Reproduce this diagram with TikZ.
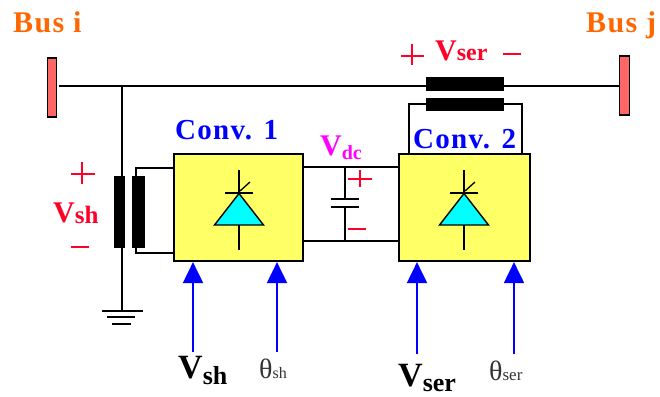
\documentclass[tikz,border=0pt]{standalone}
\usepackage{fontspec}
\setmainfont{Liberation Serif}
\newfontfamily\widefont[LetterSpace=4.5]{Liberation Serif}
\usetikzlibrary{arrows.meta,calc}
\definecolor{busorange}{RGB}{255,102,0}
\definecolor{busred}{RGB}{255,102,102}
\definecolor{boxyellow}{RGB}{255,255,102}
\definecolor{lblue}{RGB}{0,0,255}
\definecolor{vred}{RGB}{255,0,40}
\definecolor{dccyan}{RGB}{0,255,255}
\definecolor{dcmagenta}{RGB}{255,0,255}
\tikzset{
  wire/.style={draw=black,line width=1.7pt},
  busbar/.style={draw=black,fill=busred,line width=1.5pt,minimum width=9pt,inner sep=0pt},
  conv/.style={draw=black,fill=boxyellow,line width=2.2pt,inner sep=0pt},
  core/.style={fill=black,draw=none,inner sep=0pt},
  sig/.style={draw=lblue,line width=2pt,-{Triangle[width=20pt,length=21pt]},shorten >=0pt},
  sign/.style={draw=vred,line width=1.6pt},
  bustext/.style={text=busorange,font=\widefont\bfseries\fontsize{30}{30}\selectfont,inner sep=0pt},
  convtext/.style={text=lblue,font=\widefont\bfseries\fontsize{29}{29}\selectfont,inner sep=0pt},
  redtext/.style={text=vred,font=\bfseries\fontsize{30}{30}\selectfont,inner sep=0pt},
  blacktext/.style={text=black,font=\bfseries\fontsize{34}{34}\selectfont,inner sep=0pt},
  thetatext/.style={text=black!80,font=\fontsize{28}{28}\selectfont,inner sep=0pt},
}
\newcommand{\thyr}[2]{%
  \coordinate (#2top) at ($(#1)+(0,-37)$);
  \coordinate (#2gate) at ($(#1)+(0,-14)$);
  \coordinate (#2base) at ($(#1)+(0,18)$);
  \coordinate (#2bot) at ($(#1)+(0,43)$);
  \fill[dccyan,draw=black,line width=1.4pt] ($(#2gate)+(0,0.5)$) -- ($(#2base)+(-24.5,0)$) -- ($(#2base)+(24.5,0)$) -- cycle;
  \draw[wire] (#2top) -- (#2gate);
  \draw[wire] (#2base) -- (#2bot);
  \draw[wire] ($(#2gate)+(-14,0)$) -- ($(#2gate)+(13.5,0)$);
  \draw[draw=black,line width=1.3pt] ($(#2gate)+(1,-2)$) -- ($(#2gate)+(11,-11)$);
}
\begin{document}
\begin{tikzpicture}[x=1pt,y=-1pt]
\useasboundingbox (0,0) rectangle (660,396);
% buses
\node[busbar,minimum height=59pt] (busi) at (52,87.5) {};
\node[busbar,minimum height=59pt,minimum width=10pt] (busj) at (624.5,85.5) {};
\node[bustext,anchor=base west] (busilabel) at (13,33) {Bus i};
\node[bustext,anchor=base west] (busjlabel) at (586,33) {Bus j};
% series transformer
\node[core,minimum width=78pt,minimum height=14pt] (serT) at (465,84) {};
\node[core,minimum width=78pt,minimum height=13pt] (serB) at (465,104.5) {};
\coordinate (start) at (59,86);
\coordinate (tap) at (122,86);
\draw[wire] (start) -- (tap) -- (serT.west |- tap);
\draw[wire] (serT.east |- tap) -- (busj.west |- tap);
% converters
\node[conv,minimum width=129pt,minimum height=107pt] (conv1) at (238.5,207.5) {};
\node[conv,minimum width=131pt,minimum height=107pt] (conv2) at (464.5,207.5) {};
% series winding loop
\coordinate (loopL) at (409,104);
\coordinate (loopR) at (522,104);
\draw[wire] (serB.west |- loopL) -- (loopL) -- (loopL |- conv2.north);
\draw[wire] (serB.east |- loopR) -- (loopR) -- (loopR |- conv2.north);
% shunt transformer
\node[core,minimum width=11pt,minimum height=72pt] (shL) at (119.5,212) {};
\node[core,minimum width=13.5pt,minimum height=72pt] (shR) at (138.5,212) {};
\coordinate (gnd) at (122,311);
\draw[wire] (tap) -- (gnd);
\coordinate (shTop) at (136,168);
\coordinate (shBot) at (136,253);
\draw[wire] (shTop |- shR.north) -- (shTop) -- (conv1.west |- shTop);
\draw[wire] (shBot |- shR.south) -- (shBot) -- (conv1.west |- shBot);
\draw[wire] (102,311) -- (143,311);
\draw[wire] (107,317) -- (135,317);
\draw[wire] (112,324) -- (131,324);
% DC link
\coordinate (dcT) at (345,167);
\coordinate (dcB) at (345,241);
\coordinate (plateA) at (345,199);
\coordinate (plateB) at (345,207);
\draw[wire] (conv1.east |- dcT) -- (conv2.west |- dcT);
\draw[wire] (conv1.east |- dcB) -- (conv2.west |- dcB);
\draw[wire] (dcT) -- (plateA);
\draw[wire] (plateB) -- (dcB);
\draw[draw=black,line width=2.2pt] ($(plateA)+(-14,0)$) -- ($(plateA)+(14,0)$);
\draw[draw=black,line width=2.2pt] ($(plateB)+(-14,0)$) -- ($(plateB)+(14,0)$);
% thyristors
\thyr{239,207}{ta}
\thyr{464,207}{tb}
% control inputs
\coordinate (a1) at (193,352);
\coordinate (a2) at (277,352);
\coordinate (a3) at (417,354);
\coordinate (a4) at (514,354);
\draw[sig] (a1) -- (a1 |- conv1.south);
\draw[sig] (a2) -- (a2 |- conv1.south);
\draw[sig] (a3) -- (a3 |- conv2.south);
\draw[sig] (a4) -- (a4 |- conv2.south);
% signs
\draw[sign] (401,56) -- (424,56) (412,44) -- (412,65);
\draw[sign] (503,54) -- (521,54);
\draw[sign] (71,174) -- (95,174) (82,162) -- (82,184);
\draw[sign] (71,247) -- (89,247);
\draw[sign] (348,179) -- (372,179) (360,170) -- (360,187);
\draw[sign] (348,229) -- (366,229);
% labels
\node[convtext,anchor=base west] (c1label) at (175,139) {Conv. 1};
\node[convtext,anchor=base west] (c2label) at (413,148) {Conv. 2};
\node[redtext,anchor=base west] (vser) at (435,60) {V{\fontsize{24}{24}\selectfont ser}};
\node[redtext,anchor=base west] (vsh) at (53,222) {V{\fontsize{25}{25}\selectfont \raisebox{-1pt}{sh}}};
\node[text=dcmagenta,font=\bfseries\fontsize{30}{30}\selectfont,inner sep=0pt,anchor=base west] (vdc) at (320,155) {V{\fontsize{20}{20}\selectfont \raisebox{-4pt}{dc}}};
\node[blacktext,anchor=base west] (bvsh) at (178,378) {V{\fontsize{26}{26}\selectfont \raisebox{-6pt}{sh}}};
\node[blacktext,anchor=base west] (bvser) at (398,386) {V{\fontsize{26}{26}\selectfont \raisebox{-5pt}{ser}}};
\node[thetatext,anchor=base west] (thsh) at (259,378) {θ{\fontsize{16}{16}\selectfont sh}};
\node[thetatext,anchor=base west] (thser) at (489,380) {θ{\fontsize{17}{17}\selectfont ser}};
\end{tikzpicture}
\end{document}
